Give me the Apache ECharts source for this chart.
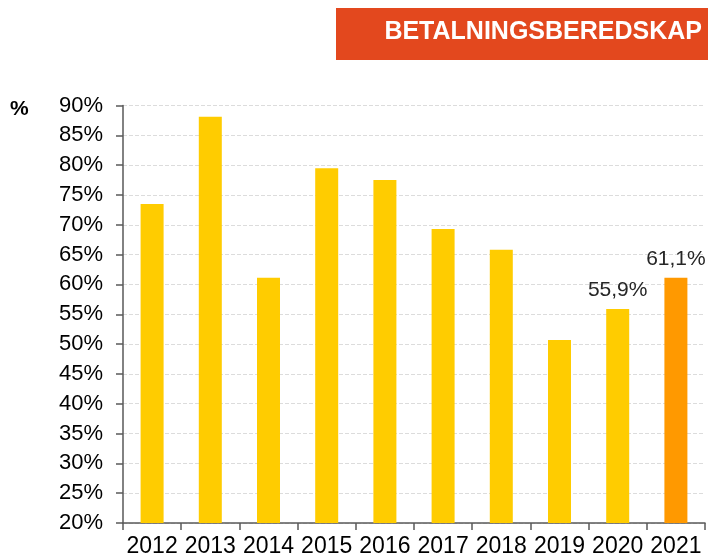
<!DOCTYPE html>
<html>
<head>
<meta charset="utf-8">
<script src="https://cdn.jsdelivr.net/npm/echarts@6/dist/echarts.min.js"></script>
<style>
html,body{margin:0;padding:0;background:#fff;}
#chart{width:708px;height:560px;}
</style>
</head>
<body>
<div id="chart"></div>
<script>
var categories = ['2012','2013','2014','2015','2016','2017','2018','2019','2020','2021'];
var values = [73.5, 88.1, 61.1, 79.5, 77.5, 69.3, 65.8, 50.7, 55.9, 61.1];
var labelledYears = ['2020','2021'];
var highlightYear = '2021';
var yMin = 20, yMax = 90, yStep = 5;
var titleText = 'BETALNINGSBEREDSKAP';
var unitText = '%';

var font = '"Liberation Sans", Arial, sans-serif';
var chart = echarts.init(document.getElementById('chart'), null, {renderer:'canvas'});

var seriesData = categories.map(function(c, i){
  var item = {value: values[i]};
  if (c === highlightYear) item.itemStyle = {color:'#FF9900'};
  if (labelledYears.indexOf(c) >= 0) {
    item.label = {
      show: true, position: 'top', distance: 8,
      fontFamily: font, fontSize: 21, color: '#262626',
      formatter: function(p){ return p.value.toFixed(1).replace('.', ',') + '%'; }
    };
  }
  return item;
});

chart.setOption({
  animation: false,
  backgroundColor: '#fff',
  grid: {left: 123, right: 3, top: 105.5, bottom: 37, containLabel: false},
  graphic: [
    {type:'rect', left: 336, top: 8, shape:{width: 372, height: 52}, style:{fill:'#E3481E'}},
    {type:'text', right: 6, top: 20, style:{text: titleText, fill:'#fff', font: 'bold 25px ' + font}},
    {type:'text', left: 10, top: 99, style:{text: unitText, fill:'#000', font: 'bold 21px ' + font}}
  ],
  xAxis: {
    type: 'category',
    data: categories,
    axisLine: {lineStyle:{color:'#595959', width: 1.5}},
    axisTick: {show: true, length: 7, lineStyle:{color:'#595959', width: 1.5}},
    axisLabel: {fontFamily: font, fontSize: 23, color:'#000', margin: 12, interval: 0}
  },
  yAxis: {
    type: 'value',
    min: yMin, max: yMax, interval: yStep,
    axisLine: {show: true, lineStyle:{color:'#595959', width: 1.5}},
    axisTick: {show: true, length: 7, lineStyle:{color:'#595959', width: 1.5}},
    axisLabel: {fontFamily: font, fontSize: 22, color:'#000', margin: 20, formatter: '{value}%'},
    splitLine: {show: true, lineStyle:{color:'#dcdcdc', type:'dashed', width: 1}}
  },
  series: [{
    type: 'bar',
    data: seriesData,
    barWidth: 23,
    itemStyle: {color:'#FFCC00'}
  }]
});
</script>
</body>
</html>
